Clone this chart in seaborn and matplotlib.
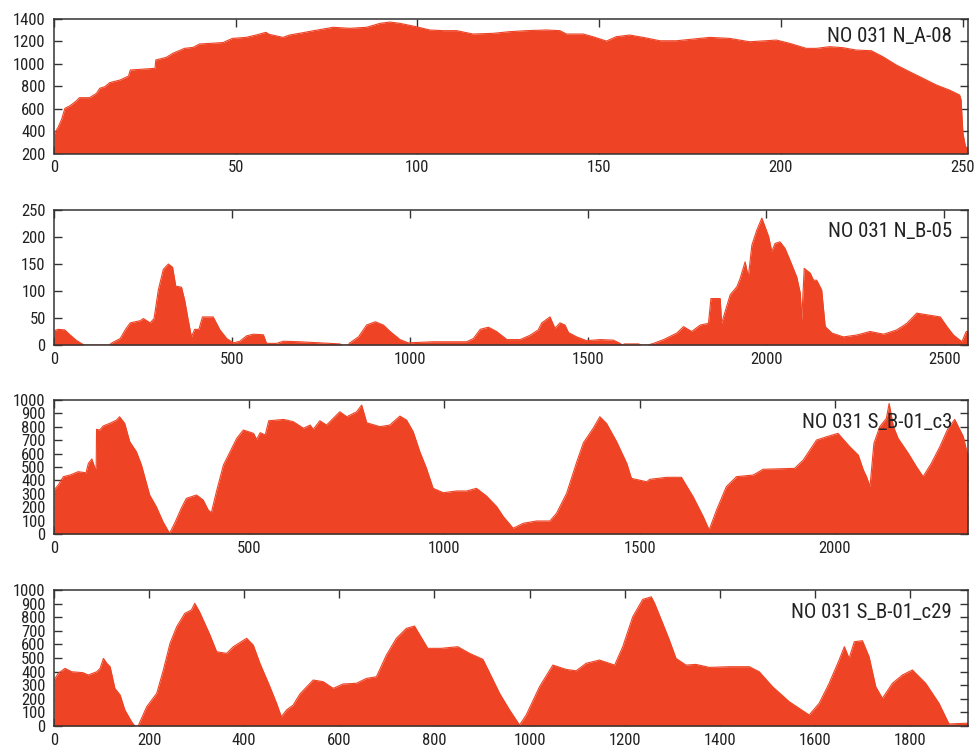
import matplotlib
matplotlib.use("Agg")
import matplotlib.pyplot as plt
from matplotlib import font_manager
import seaborn as sns

# --- profile data (position along the section, count) ---
a08_x = [0, 1.2, 2.1, 3, 4.3, 6.1, 7, 9.8, 11.7, 12.6, 14, 15.3, 18.2, 20.5, 21, 27.8, 28, 30.9,
         32.7, 35.9, 38.3, 40, 43.7, 46.5, 49.1, 52.8, 55.6, 58.3, 59.2, 63, 64.8, 68.5, 71.5,
         76.8, 81.4, 86, 89.7, 92.4, 95.2, 99.7, 103.4, 107.1, 110.8, 115.3, 120.8, 125.4, 130,
         135.5, 139.2, 141, 145.6, 148.3, 152, 154.7, 158.4, 162.1, 166.7, 171.3, 180.4, 185.9,
         191.4, 198.8, 202.4, 207, 209.8, 213.4, 217.1, 220.7, 224.9, 228.1, 231.8, 235.4, 239.1,
         242.8, 246.4, 249.2, 249.6, 250.1, 250.8, 251.5]
a08_y = [370, 439, 505, 603, 624, 668, 698, 698, 737, 782, 796, 832, 856, 891, 945, 960, 1034, 1058,
         1094, 1138, 1147, 1177, 1184, 1190, 1227, 1236, 1257, 1281, 1263, 1236, 1257, 1278, 1296,
         1326, 1317, 1326, 1361, 1373, 1361, 1331, 1302, 1296, 1296, 1266, 1272, 1287, 1296,
         1302, 1296, 1266, 1266, 1242, 1203, 1242, 1257, 1236, 1206, 1206, 1236, 1227,
         1197, 1212, 1183, 1138, 1138, 1153, 1144, 1123, 1117, 1063, 989, 930, 871,
         811, 766, 722, 677, 382, 261, 250]

b05_x = [0, 12, 30, 43, 62, 79, 85, 155, 163, 186, 200, 214, 242, 251, 270, 281, 293, 307, 321, 333,
         342, 358, 367, 377, 386, 395, 407, 417, 447, 466, 485, 504, 522, 541, 560, 588, 597, 625,
         644, 690, 749, 803, 808, 826, 831, 855, 878, 902, 925, 944, 972, 995, 1065, 1159, 1178,
         1197, 1220, 1243, 1272, 1309, 1337, 1360, 1370, 1393, 1407, 1421, 1435, 1445, 1468, 1496,
         1534, 1571, 1590, 1596, 1602, 1642, 1648, 1668, 1684, 1712, 1749, 1768, 1791, 1815, 1838,
         1845, 1871, 1875, 1885, 1899, 1918, 1927, 1941, 1950, 1960, 1974, 1988, 1997, 2007, 2016,
         2025, 2039, 2053, 2067, 2086, 2096, 2100, 2107, 2124, 2133, 2142, 2156, 2166, 2185, 2217,
         2255, 2292, 2330, 2367, 2395, 2423, 2451, 2489, 2508, 2526, 2550, 2562, 2567]
b05_y = [26.5, 29, 28, 20, 9, 2, 0, 0, 4, 12, 28, 41, 45, 49, 41, 49, 102, 140, 150, 144,
         109, 107, 83, 46, 15, 29, 29, 52, 52, 28, 12, 4, 7, 17, 20, 19, 3, 3,
         7, 6, 4, 2, 0, 0, 4, 15, 37, 43, 37, 25, 10, 4, 6, 6, 12,
         29, 33, 25, 10, 10, 18, 28, 41, 52, 31, 41, 37, 23, 15, 8,
         10, 9, 3, 0, 2, 2, 0, 0, 3, 10, 22, 34, 25, 37, 40,
         86, 86, 40, 62, 93, 108, 123, 154, 126, 185, 213, 235, 219, 201, 173,
         188, 191, 179, 157, 126, 96, 46, 142, 133, 120, 120, 102, 34, 22, 15,
         18.5, 25, 20, 28, 40, 59, 56, 52, 34, 18.5, 6, 25, 25]

c3_x = [0, 11, 24, 41, 62, 82, 88, 97, 105, 108, 109, 117, 126, 143, 160, 168, 181, 194, 211, 224,
        245, 262, 279, 296, 309, 326, 339, 365, 382, 395, 403, 416, 434, 451, 468, 485, 511, 519,
        528, 541, 550, 588, 613, 639, 656, 664, 681, 698, 732, 750, 775, 788, 801, 835, 860, 886,
        903, 920, 937, 954, 971, 997, 1031, 1057, 1082, 1108, 1134, 1151, 1176, 1202, 1236, 1270,
        1287, 1313, 1339, 1356, 1381, 1398, 1415, 1441, 1467, 1479, 1518, 1526, 1569, 1607, 1637,
        1663, 1678, 1697, 1722, 1748, 1791, 1816, 1897, 1919, 1953, 1979, 2008, 2038, 2060, 2073,
        2081, 2090, 2100, 2115, 2132, 2139, 2150, 2162, 2188, 2209, 2226, 2247, 2269, 2290, 2307,
        2329, 2341]
c3_y = [328, 366, 428, 440, 465, 457, 527, 560, 490, 490, 781, 776, 806, 826, 850, 875, 826, 689, 614, 515,
        291, 204, 92, 5, 80, 192, 266, 291, 254, 179, 159, 316, 515, 614, 714, 776, 751, 706,
        756, 739, 845, 855, 838, 789, 813, 781, 845, 813, 912, 875, 912, 962, 830, 801, 813, 880,
        850, 763, 614, 490, 341, 308, 321, 321, 341, 283, 204, 129, 43, 80, 97, 97,
        154, 304, 539, 681, 789, 875, 826, 689, 527, 415, 390, 408, 423, 423, 278,
        129, 30, 179, 353, 428, 440, 483, 490, 552, 701, 726, 751, 652, 589, 477,
        428, 353, 676, 801, 863, 974, 801, 714, 602, 502, 428, 527, 652, 789, 855,
        726, 577]

c29_x = [0, 9, 23, 37, 61, 72, 90, 97, 104, 111, 118, 128, 139, 149, 163, 170, 177, 181, 195, 216,
         230, 244, 258, 275, 289, 296, 306, 328, 342, 363, 377, 405, 419, 433, 454, 468, 478, 489,
         503, 517, 545, 566, 587, 608, 636, 657, 678, 699, 720, 741, 758, 786, 814, 849, 874, 902,
         920, 937, 958, 972, 979, 993, 1021, 1049, 1077, 1098, 1119, 1147, 1179, 1196, 1217, 1238,
         1256, 1263, 1280, 1294, 1308, 1329, 1350, 1378, 1420, 1462, 1483, 1511, 1546, 1588, 1609,
         1630, 1651, 1662, 1672, 1683, 1700, 1714, 1728, 1742, 1763, 1784, 1805, 1833, 1861, 1882,
         1917, 1922]
c29_y = [338, 387, 424, 399, 392, 375, 399, 424, 497, 461, 436, 277, 228, 118, 32, 0, 0, 32, 142, 240,
         412, 608, 730, 828, 853, 902, 840, 669, 546, 534, 583, 645, 595, 461, 289, 167, 68, 118,
         154, 235, 338, 326, 277, 309, 314, 350, 362, 522, 645, 718, 735, 571, 571, 583, 534, 490,
         362, 240, 118, 44, 7, 81, 289, 448, 416, 406, 461, 485, 448, 583, 803, 931,
         950, 902, 755, 632, 497, 448, 453, 431, 436, 436, 399, 289, 179, 81, 167,
         314, 485, 583, 497, 620, 627, 509, 289, 203, 314, 375, 412, 314, 167, 15,
         20, 20]

labels = ["NO 031 N_A-08", "NO 031 N_B-05", "NO 031 S_B-01_c3", "NO 031 S_B-01_c29"]
x_limits = [(0, 251.5), (0, 2567), (0, 2341), (0, 1922)]
y_limits = [(200, 1400), (0, 250), (0, 1000), (0, 1000)]
x_steps = [50, 500, 500, 200]
y_steps = [200, 50, 100, 100]

FILL = "#EE4324"

sns.set_theme(style="ticks")

# pick a narrow sans face when one is installed
names = {f.name for f in font_manager.fontManager.ttflist}
family = "DejaVu Sans"
for cand in ["Liberation Sans Narrow", "Roboto Condensed", "Open Sans Condensed"]:
    if cand in names:
        family = cand
        break
plt.rcParams["font.family"] = [family, "DejaVu Sans"]
if family == "DejaVu Sans":
    plt.rcParams["font.stretch"] = "condensed"

W, H = 974, 748
fig = plt.figure(figsize=(W / 100, H / 100), dpi=100)

# panel frames in pixels: (top, bottom)
frames = [(19, 153.5), (210, 345), (400, 534), (590, 726)]
left_px, right_px = 54, 968

series = [(a08_x, a08_y), (b05_x, b05_y), (c3_x, c3_y), (c29_x, c29_y)]

for i, ((top, bot), (xs, ys)) in enumerate(zip(frames, series)):
    ax = fig.add_axes([left_px / W, 1 - bot / H, (right_px - left_px) / W, (bot - top) / H])
    base = y_limits[i][0]
    ax.fill_between(xs, ys, base, color=FILL, linewidth=0, zorder=2)
    sns.lineplot(x=xs, y=ys, ax=ax, color=FILL, linewidth=0.8, sort=False,
                 estimator=None, zorder=2)
    ax.set_xlim(*x_limits[i])
    ax.set_ylim(*y_limits[i])
    x0, x1 = x_limits[i]
    ax.set_xticks(range(0, int(x1) + 1, x_steps[i]))
    y0, y1 = y_limits[i]
    ax.set_yticks(range(int(y0), int(y1) + 1, y_steps[i]))
    ax.set_xlabel("")
    ax.set_ylabel("")
    ax.tick_params(direction="in", top=True, right=True, length=6, width=1,
                   color="#333333", labelsize=12, labelcolor="#222222", pad=5)
    ax.tick_params(axis="y", pad=6)
    for sp in ax.spines.values():
        sp.set_visible(True)
        sp.set_color("#333333")
        sp.set_linewidth(1.1)
        sp.set_zorder(5)
    offset = [17.7, 21.7, 22.7, 23][i]
    ax.text(0.9825, 1 - offset / (bot - top), labels[i], transform=ax.transAxes,
            ha="right", va="center", fontsize=15, color="#222222", zorder=6)

fig.savefig("out.png", dpi=100)
